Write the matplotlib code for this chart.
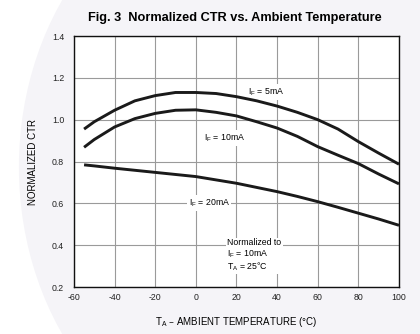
import matplotlib
matplotlib.use("Agg")
import matplotlib.pyplot as plt
from matplotlib.patches import Ellipse

matplotlib.rcParams.update({
    "font.family": ["Liberation Sans", "DejaVu Sans"],
    "font.size": 6,
    "axes.unicode_minus": False,
})

# values
temp = [-55, -50, -40, -30, -20, -10, 0, 10, 20, 30, 40, 50, 60, 70, 80, 90, 100]
ctr_5ma = [0.955, 0.99, 1.045, 1.09, 1.115, 1.13, 1.13, 1.125, 1.11, 1.09,
           1.065, 1.035, 1.0, 0.955, 0.895, 0.84, 0.787]
ctr_10ma = [0.868, 0.905, 0.965, 1.005, 1.03, 1.045, 1.047, 1.035, 1.018, 0.99,
            0.96, 0.92, 0.871, 0.83, 0.79, 0.74, 0.693]
ctr_20ma = [0.784, 0.779, 0.768, 0.758, 0.748, 0.738, 0.728, 0.712, 0.696, 0.676,
            0.656, 0.633, 0.608, 0.581, 0.553, 0.525, 0.495]

x_ticks = [-60, -40, -20, 0, 20, 40, 60, 80, 100]
y_ticks = [0.2, 0.4, 0.6, 0.8, 1.0, 1.2, 1.4]

fig = plt.figure(figsize=(4.2, 3.34), dpi=100)

# faint watermark swoosh behind the chart
bg = fig.add_axes([0, 0, 1, 1], zorder=-1)
bg.axis("off")
bg.add_patch(Ellipse((0.62, 0.50), 1.15, 1.75, transform=bg.transAxes,
                     facecolor="#f5f4f8", edgecolor="none"))

ax = fig.add_axes([0.176, 0.1407, 0.774, 0.7515], zorder=1)
ax.set_facecolor("white")

for y in (ctr_5ma, ctr_10ma, ctr_20ma):
    ax.plot(temp, y, color="#1a1a1a", linewidth=2.1, solid_capstyle="butt", zorder=3)

ax.set_xlim(-60, 100)
ax.set_ylim(0.2, 1.4)
ax.set_xticks(x_ticks)
ax.set_yticks(y_ticks)
ax.set_yticklabels([f"{v:.1f}" for v in y_ticks])
ax.tick_params(length=0, pad=7, labelsize=6.3, colors="#222222")
ax.tick_params(axis="x", pad=4)
ax.grid(True, color="#9a9a9a", linewidth=0.8)
ax.set_axisbelow(True)
for s in ax.spines.values():
    s.set_linewidth(1.0)
    s.set_color("#111111")

box = dict(facecolor="white", edgecolor="none", pad=1)
ax.text(25.5, 1.133, "I$_\\mathregular{F}$ = 5mA", fontsize=6.3, ha="left", va="center",
        bbox=box, zorder=2)
ax.text(4, 0.913, "I$_\\mathregular{F}$ = 10mA", fontsize=6.3, ha="left", va="center",
        bbox=box, zorder=2)
ax.text(-3.5, 0.602, "I$_\\mathregular{F}$ = 20mA", fontsize=6.3, ha="left", va="center",
        bbox=box, zorder=2)
ax.text(15.5, 0.435, "Normalized to\nI$_\\mathregular{F}$ = 10mA\nT$_\\mathregular{A}$ = 25°C",
        fontsize=6.3, ha="left", va="top", linespacing=1.05, bbox=box, zorder=2)

ax.set_xlabel("T$_\\mathregular{A}$ – AMBIENT TEMPERATURE (°C)", fontsize=7, labelpad=10)
ax.set_ylabel("NORMALIZED CTR", fontsize=7, labelpad=10)

fig.text(0.56, 0.947, "Fig. 3  Normalized CTR vs. Ambient Temperature",
         fontsize=9.2, fontweight="bold", ha="center", va="center")

fig.savefig("out.png", dpi=100)
